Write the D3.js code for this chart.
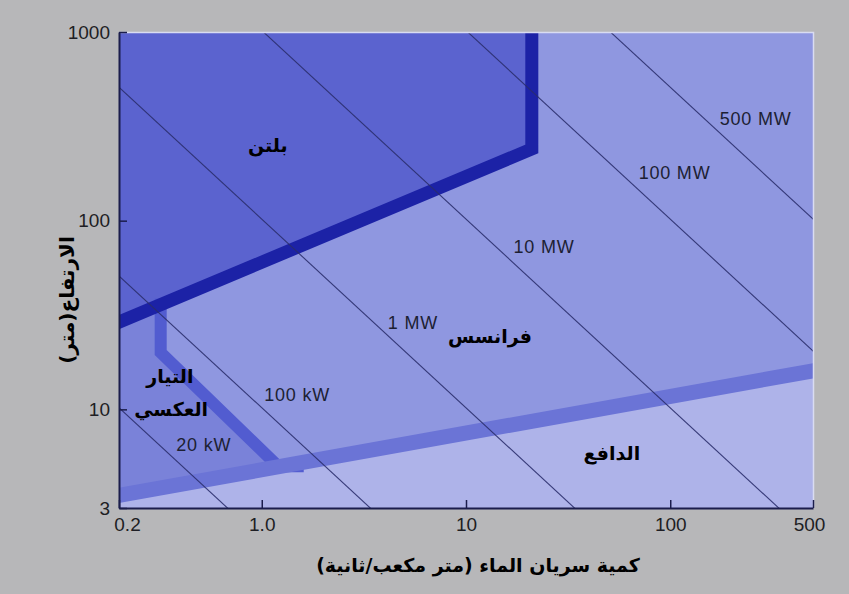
<!DOCTYPE html>
<html>
<head>
<meta charset="utf-8">
<script src="https://cdn.jsdelivr.net/npm/d3@7"></script>
<style>
  html, body { margin: 0; padding: 0; background: #b7b7b9; }
  svg { display: block; }
</style>
</head>
<body>
<svg id="chart" width="849" height="594"></svg>
<script>
// Axis ticks
const flowTicks = [0.2, 1, 10, 100, 500];
const flowTickLabels = ["0.2", "1.0", "10", "100", "500"];
const headTicks = [3, 10, 100, 1000];
const headTickLabels = ["3", "10", "100", "1000"];

// Constant-power lines, P in kW  (P = 9.81 · Q · H)
const powerKW = [20, 100, 1000, 10000, 100000, 500000];
const powerLabels = ["20 kW", "100 kW", "1 MW", "10 MW", "100 MW", "500 MW"];
const powerLabelAt = [[0.52, 6.5], [1.49, 11.9], [5.5, 28.7], [24.1, 72.6], [105, 178], [262, 345]];

// Turbine application boundaries, points are [Q (m³/s), H (m)]
const peltonBoundary = [[0.2, 29], [21, 240], [21, 1000]];
const crossflowBoundary = [[0.32, 36], [0.32, 20], [1.2, 5], [1.5, 5]];
const kaplanBoundary = [[0.2, 3.5], [500, 16]];

// Region names and where they sit [Q, H]
const regionNames = ["بلتن", "فرانسس", "التيار", "العكسي", "الدافع"];
const regionLabelAt = [[1.07, 251], [13.1, 24.5], [0.355, 15], [0.36, 10], [51.8, 5.9]];

const xTitle = "كمية سريان الماء (متر مكعب/ثانية)";
const yTitle = "الارتفاع(متر)";

const svg = d3.select("#chart");
const x = d3.scaleLog().domain([0.2, 500]).range([119, 813]);
const y = d3.scaleLog().domain([3, 1000]).range([508, 32]);
const [x0, x1] = x.range();
const [y1, y0] = y.range();

const defs = svg.append("defs");
defs.append("clipPath").attr("id", "plot-clip")
  .append("rect").attr("x", x0).attr("y", y0).attr("width", x1 - x0).attr("height", y1 - y0);

const line = d3.line().x(d => x(d[0])).y(d => y(d[1]));
const plot = svg.append("g").attr("clip-path", "url(#plot-clip)");

// Francis zone covers everything not claimed by another turbine type
plot.append("rect").attr("x", x0).attr("y", y0).attr("width", x1 - x0).attr("height", y1 - y0)
  .attr("fill", "#8f97e0");

// Cross-flow zone
const [qMin, qMax] = x.domain();
const [hMin, hMax] = y.domain();
plot.append("path")
  .attr("d", line([[qMin, peltonBoundary[0][1]], ...crossflowBoundary, kaplanBoundary[0]]) + "Z")
  .attr("fill", "#7a82d9");

// Pelton zone
plot.append("path")
  .attr("d", line([...peltonBoundary, [qMin, hMax]]) + "Z")
  .attr("fill", "#5b63cf");

// Kaplan (propeller) zone
plot.append("path")
  .attr("d", line([...kaplanBoundary, [qMax, hMin], [qMin, hMin]]) + "Z")
  .attr("fill", "#aeb3e9");

// Boundary bands
plot.append("path").attr("d", line(crossflowBoundary))
  .attr("fill", "none").attr("stroke", "#525cd0").attr("stroke-width", 12)
  .attr("stroke-linejoin", "miter").attr("stroke-linecap", "square");
plot.append("path").attr("d", line(kaplanBoundary))
  .attr("fill", "none").attr("stroke", "#6b74d6").attr("stroke-width", 15)
  .attr("stroke-linecap", "square");
plot.append("path").attr("d", line(peltonBoundary))
  .attr("fill", "none").attr("stroke", "#1c22a6").attr("stroke-width", 13)
  .attr("stroke-linejoin", "miter").attr("stroke-linecap", "square");

// Constant-power lines
const rhoG = 9.81;
plot.selectAll("path.power").data(powerKW).join("path")
  .attr("class", "power")
  .attr("d", p => line([[0.01, p / (rhoG * 0.01)], [5000, p / (rhoG * 5000)]]))
  .attr("fill", "none").attr("stroke", "#2a2e6c").attr("stroke-width", 1.1)
  .attr("stroke-opacity", 0.9);

// Light edge on top and right of the plot
svg.append("path")
  .attr("d", `M${x0},${y0 + 0.5}H${x1 + 0.5}V${y1}`)
  .attr("fill", "none").attr("stroke", "#d9dcf2").attr("stroke-width", 1.5);

// Power labels
svg.append("g").selectAll("text").data(powerLabels).join("text")
  .attr("x", (d, i) => x(powerLabelAt[i][0]))
  .attr("y", (d, i) => y(powerLabelAt[i][1]))
  .attr("text-anchor", "middle").attr("dominant-baseline", "central")
  .attr("font-family", "'Liberation Sans', Arial, Helvetica, sans-serif")
  .attr("font-size", 18).attr("letter-spacing", 0.8)
  .attr("fill", "#1d1f33")
  .text(d => d);

// Region names
svg.append("g").selectAll("text").data(regionNames).join("text")
  .attr("x", (d, i) => x(regionLabelAt[i][0]))
  .attr("y", (d, i) => y(regionLabelAt[i][1]))
  .attr("text-anchor", "middle").attr("dominant-baseline", "central")
  .attr("direction", "rtl")
  .attr("font-family", "'DejaVu Sans', sans-serif")
  .attr("font-weight", "bold").attr("font-size", 19)
  .attr("fill", "#000")
  .text(d => d);

// Axes
const tickFont = "'Liberation Sans', Arial, Helvetica, sans-serif";
const gx = svg.append("g").attr("transform", `translate(0,${y1})`)
  .call(d3.axisBottom(x).tickValues(flowTicks).tickFormat((d, i) => flowTickLabels[i])
    .tickSizeInner(-8).tickSizeOuter(0).tickPadding(10));
const gy = svg.append("g").attr("transform", `translate(${x0},0)`)
  .call(d3.axisLeft(y).tickValues(headTicks).tickFormat((d, i) => headTickLabels[i])
    .tickSizeInner(-8).tickSizeOuter(0).tickPadding(9));
[gx, gy].forEach(g => {
  g.select(".domain").attr("stroke", "#1b1d4c").attr("stroke-width", 2);
  g.selectAll(".tick line").attr("stroke", "#1b1d4c").attr("stroke-width", 1.5);
  g.selectAll(".tick text").attr("font-family", tickFont).attr("font-size", 19)
    .attr("fill", "#1e1e24");
});
// First and last flow labels sit just inside the corners
gx.selectAll(".tick text").attr("dx", (d, i) => i === 0 ? 8 : (i === flowTicks.length - 1 ? -4 : 0));

// Axis titles
svg.append("text")
  .attr("x", 478).attr("y", 565)
  .attr("text-anchor", "middle").attr("dominant-baseline", "central")
  .attr("direction", "rtl")
  .attr("font-family", "'DejaVu Sans', sans-serif")
  .attr("font-weight", "bold").attr("font-size", 19)
  .attr("fill", "#000")
  .text(xTitle);

svg.append("text")
  .attr("transform", "translate(67,300) rotate(-90)")
  .attr("text-anchor", "middle").attr("dominant-baseline", "central")
  .attr("direction", "rtl")
  .attr("font-family", "'DejaVu Sans', sans-serif")
  .attr("font-weight", "bold").attr("font-size", 20)
  .attr("fill", "#000")
  .text(yTitle);
</script>
</body>
</html>
